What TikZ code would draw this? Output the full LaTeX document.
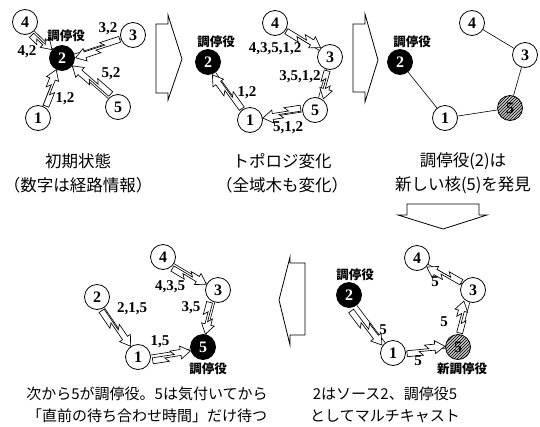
\documentclass[tikz,border=0pt]{standalone}
\usepackage{fontspec}
\setmainfont{Liberation Serif}
\newfontfamily\jp{Noto Sans CJK JP}
\usetikzlibrary{patterns}
\makeatletter
\newcommand\bolt[3][4]{%
  \pgfmathanglebetweenpoints{\pgfpointanchor{#2}{center}}{\pgfpointanchor{#3}{center}}%
  \let\boltang\pgfmathresult
  \pgfpointdiff{\pgfpointanchor{#2}{center}}{\pgfpointanchor{#3}{center}}%
  \edef\boltdx{\the\pgf@x}\edef\boltdy{\the\pgf@y}%
  \pgfmathveclen{\boltdx}{\boltdy}\let\boltD\pgfmathresult
  \begin{scope}[shift={(#2.center)}, rotate=\boltang, shift={(0,#1)}]
    \pgfmathsetmacro\bx{14}%
    \pgfmathsetmacro\bz{\boltD-13}%
    \pgfmathsetmacro\bm{\bx+0.42*(\bz-\bx)}%
    \pgfmathsetmacro\bh{\bz-10}%
    \draw[boltst] (\bx,5) -- (\bm,5) -- ({\bm-4},1) -- (\bh,1) -- (\bh,4.5)
      -- (\bz,-2) -- (\bh,-8.5) -- (\bh,-5) -- ({\bm+2},-5) -- ({\bm+6},-1)
      -- (\bx,-1) -- cycle;
  \end{scope}}
\makeatother
\begin{document}
\begin{tikzpicture}[x=1pt,y=-1pt,
  nd/.style={circle,draw,line width=0.8pt,minimum size=25pt,inner sep=0pt,fill=white,
    font=\bfseries\fontsize{16}{16}\selectfont},
  blk/.style={nd,fill=black,text=white},
  hatnd/.style={circle,draw,line width=0.8pt,minimum size=25pt,inner sep=0pt,
    preaction={fill=gray!45},
    pattern=north east lines,pattern color=black,font=\bfseries\fontsize{16}{16}\selectfont},
  tedge/.style={line width=0.6pt},
  boltst/.style={draw,fill=white,line width=0.65pt,line join=miter},
  lab/.style={font=\bfseries\fontsize{15}{15}\selectfont,inner sep=0pt},
  rolelab/.style={font=\jp\bfseries\fontsize{12.5}{13}\selectfont,inner sep=0pt},
  captop/.style={font=\jp\fontsize{16.5}{20}\selectfont,inner sep=0pt},
  capbot/.style={font=\jp\fontsize{15}{18}\selectfont,inner sep=0pt},
  bigarrow/.style={draw,line width=0.8pt,line join=miter,fill=white}]
\useasboundingbox (0,0) rectangle (540,426);

% big arrows
\draw[bigarrow] (156,24) -- (168,24) -- (168,15) -- (182,59) -- (168,100) -- (168,93) -- (156,93) -- cycle;
\draw[bigarrow] (353,24) -- (365,24) -- (365,14) -- (378,60) -- (365,102) -- (365,92) -- (353,92) -- cycle;
\draw[bigarrow] (407,204) -- (479,204) -- (479,215) -- (487,215) -- (443,229) -- (398,215) -- (407,215) -- cycle;
\draw[bigarrow] (305,263) -- (305,335) -- (290,335) -- (290,345) -- (279,300) -- (290,257) -- (290,263) -- cycle;

% ---------- panel 1
\node[nd] (a4) at (25,22) {4};
\node[blk] (a2) at (62,58) {2};
\node[nd] (a3) at (133,35) {3};
\node[nd] (a5) at (118,107) {5};
\node[nd] (a1) at (38,118) {1};
\draw[tedge] (a2) -- (a4) (a2) -- (a3) (a2) -- (a5) (a2) -- (a1);
\bolt[3]{a4}{a2}\bolt[-2]{a3}{a2}\bolt[3]{a5}{a2}\bolt[1]{a1}{a2}
\node[rolelab] (ar) at (66,36) {調停役};
\node[lab] (al4) at (27,52) {4,2};
\node[lab] (al3) at (108,29) {3,2};
\node[lab] (al5) at (111,74) {5,2};
\node[lab] (al1) at (65,99) {1,2};
\node[captop] (ac1) at (78,161) {初期状態};
\node[captop] (ac2) at (78,185) {（数字は経路情報）};

% ---------- panel 2
\node[nd] (b4) at (275,23) {4};
\node[blk] (b2) at (208,62) {2};
\node[nd] (b3) at (330,57) {3};
\node[nd] (b5) at (315,110) {5};
\node[nd] (b1) at (250,120) {1};
\draw[tedge] (b4) -- (b3) (b3) -- (b5) (b5) -- (b1) (b1) -- (b2);
\bolt[-1]{b4}{b3}\bolt[-3]{b3}{b5}\bolt[2]{b5}{b1}\bolt[-2]{b1}{b2}
\node[rolelab] (br) at (216,42) {調停役};
\node[lab] (bl4) at (275,49) {4,3,5,1,2};
\node[lab] (bl3) at (300,77) {3,5,1,2};
\node[lab] (bl1) at (247,93) {1,2};
\node[lab] (bl5) at (288,128) {5,1,2};
\node[captop] (bc1) at (282,161) {トポロジ変化};
\node[captop] (bc2) at (282,185) {（全域木も変化）};

% ---------- panel 3
\node[nd] (c4) at (472,23) {4};
\node[blk] (c2) at (400,62) {2};
\node[nd] (c3) at (525,55) {3};
\node[hatnd] (c5) at (510,108) {5};
\node[nd] (c1) at (445,118) {1};
\draw[tedge] (c4) -- (c3) (c3) -- (c5) (c5) -- (c1) (c1) -- (c2);
\node[rolelab] (cr) at (412,42) {調停役};
\node[captop] (cc1) at (463,161) {調停役(2)は};
\node[captop] (cc2) at (463,185) {新しい核(5)を発見};

% ---------- panel 4
\node[nd] (d4) at (163,257) {4};
\node[nd] (d2) at (97,297) {2};
\node[nd] (d3) at (218,290) {3};
\node[nd] (d1) at (138,357) {1};
\node[blk] (d5) at (203,347) {5};
\draw[tedge] (d4) -- (d3) (d3) -- (d5) (d2) -- (d1) (d1) -- (d5);
\bolt[3]{d4}{d3}\bolt[3]{d3}{d5}\bolt[2]{d2}{d1}\bolt[4]{d1}{d5}
\node[rolelab] (dr) at (208,369) {調停役};
\node[lab] (dl4) at (170,287) {4,3,5};
\node[lab] (dl3) at (191,308) {3,5};
\node[lab] (dl2) at (132,309) {2,1,5};
\node[lab] (dl1) at (160,342) {1,5};
\node[capbot] (dc1) at (147,394) {次から5が調停役。5は気付いてから};
\node[capbot] (dc2) at (147,416) {「直前の待ち合わせ時間」だけ待つ};

% ---------- panel 5
\node[nd] (e4) at (417,258) {4};
\node[blk] (e2) at (349,295) {2};
\node[nd] (e3) at (473,290) {3};
\node[nd] (e1) at (393,353) {1};
\node[hatnd] (e5) at (458,347) {5};
\draw[tedge] (e4) -- (e3) (e3) -- (e5) (e2) -- (e1) (e1) -- (e5);
\bolt[-1]{e3}{e4}\bolt[-4]{e5}{e3}\bolt[6]{e2}{e1}\bolt[0]{e1}{e5}
\node[rolelab] (er) at (355,275) {調停役};
\node[rolelab] (en) at (462,369) {新調停役};
\node[lab] (el4) at (435,282) {5};
\node[lab] (el3) at (444,322) {5};
\node[lab] (el2) at (383,330) {5};
\node[lab] (el1) at (418,361) {5};
\node[capbot] (ec1) at (385,394) {2はソース2、調停役5};
\node[capbot] (ec2) at (385,416) {としてマルチキャスト};
\end{tikzpicture}
\end{document}
